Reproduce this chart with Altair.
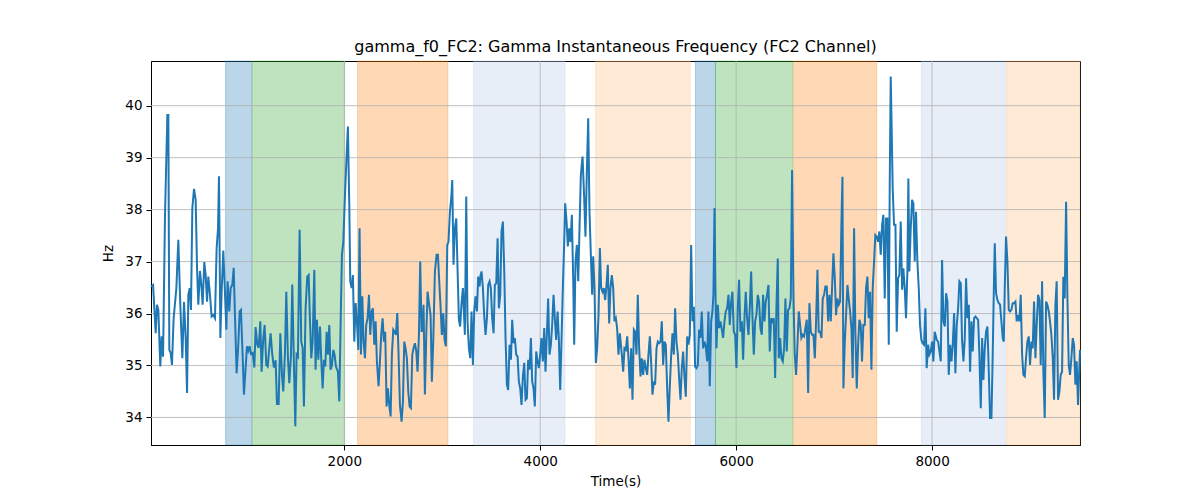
import altair as alt
import pandas as pd

# Gamma instantaneous frequency (Hz) over time (s)
time_s = [
    27, 48, 61, 75, 88, 102, 122, 136, 150, 170,
    194, 204, 214, 228, 241, 258, 286, 306, 326, 347,
    364, 381, 395, 408, 422, 435, 449, 466, 483, 497,
    510, 527, 541, 554, 571, 585, 599, 612, 629, 646,
    663, 680, 697, 711, 721, 735, 748, 765, 779, 796,
    809, 826, 840, 857, 871, 884, 901, 918, 932, 945,
    962, 976, 993, 1007, 1020, 1034, 1048, 1065, 1082, 1095,
    1112, 1126, 1143, 1156, 1173, 1187, 1204, 1218, 1235, 1248,
    1265, 1282, 1299, 1313, 1330, 1347, 1364, 1377, 1394, 1408,
    1425, 1439, 1456, 1469, 1486, 1500, 1513, 1527, 1544, 1561,
    1575, 1588, 1605, 1622,
    1636, 1650, 1663, 1677, 1694, 1707, 1721, 1735, 1752, 1765,
    1779, 1792, 1806, 1820, 1833, 1847, 1860, 1874, 1888, 1901,
    1915, 1935, 1949, 1963, 1976, 1990, 2007, 2024, 2037, 2051,
    2061, 2075, 2088, 2102, 2116, 2129, 2143, 2156, 2170, 2184,
    2197, 2211, 2224, 2238, 2252, 2265, 2279, 2292, 2306, 2320,
    2333, 2350, 2364, 2377, 2391, 2405, 2418, 2432, 2445, 2459,
    2473, 2486, 2500, 2513, 2527, 2541, 2554, 2568, 2585, 2599,
    2612, 2626, 2639, 2653, 2667, 2680, 2694, 2707, 2721, 2735,
    2748, 2762, 2775, 2789, 2799, 2809, 2823, 2837, 2850, 2864,
    2881, 2894, 2908, 2925, 2942, 2956, 2969, 2983, 2996, 3010,
    3024, 3037, 3051, 3064, 3078, 3092, 3102, 3115, 3129, 3143,
    3156, 3170, 3183, 3197, 3211,
    3231, 3245, 3258, 3272, 3286, 3299, 3313, 3326, 3340, 3354,
    3367, 3381, 3391, 3401, 3415, 3428, 3442, 3456, 3469, 3483,
    3496, 3510, 3524, 3537, 3551, 3565, 3578, 3592, 3605, 3619,
    3633, 3646, 3660, 3673, 3687, 3701, 3714, 3728, 3741, 3755,
    3769, 3782, 3796, 3809, 3823, 3837, 3850, 3864, 3877, 3891,
    3905, 3918, 3932, 3945, 3959, 3973, 3986, 4000, 4013, 4027,
    4041, 4054, 4068, 4081, 4095, 4109, 4122, 4136, 4149, 4163,
    4177, 4190, 4204, 4218, 4231, 4245, 4255, 4269, 4282, 4296,
    4309, 4323, 4337, 4347, 4360, 4374, 4388, 4401, 4415, 4432,
    4449, 4462, 4476, 4490, 4503, 4517, 4530, 4541, 4554, 4568,
    4581, 4595, 4609, 4622, 4636, 4649, 4663, 4677, 4690, 4704,
    4717, 4731, 4745, 4758, 4772, 4785, 4799, 4813,
    4833, 4847, 4860, 4874, 4888, 4901, 4915, 4928, 4942, 4956,
    4969, 4983, 4996, 5010, 5024, 5037, 5051, 5064, 5078, 5092,
    5105, 5119, 5132, 5146, 5160, 5173, 5187, 5201, 5214, 5228,
    5241, 5255, 5269, 5282, 5296, 5309, 5323, 5337, 5350, 5364,
    5377, 5391, 5405, 5418, 5432, 5445, 5459, 5473, 5486, 5500,
    5513, 5527, 5541, 5554, 5568, 5581, 5595, 5609, 5622, 5636,
    5649, 5663, 5677, 5690, 5704, 5717, 5731, 5745, 5758, 5768,
    5779, 5789, 5799, 5813, 5826, 5840, 5854, 5867, 5881, 5894,
    5908, 5922, 5935, 5949, 5962, 5976, 5990, 6003, 6017, 6030,
    6044, 6058, 6071, 6085, 6098, 6112, 6126, 6139, 6153, 6166,
    6180, 6194, 6207, 6221, 6234, 6248, 6262, 6275, 6289, 6302,
    6316, 6330, 6343, 6357, 6370, 6384, 6398, 6411, 6425, 6435,
    6449, 6462, 6476, 6490, 6503, 6517, 6530, 6544, 6558, 6571,
    6585, 6598, 6612, 6626, 6639, 6653, 6666, 6680, 6694, 6707,
    6721, 6735, 6748, 6762, 6775, 6789, 6803, 6816, 6830, 6843,
    6857, 6871, 6884, 6898, 6911, 6925, 6939, 6952, 6966, 6979,
    6993, 7007, 7020, 7034, 7047, 7061, 7075, 7085, 7095, 7109,
    7122, 7136, 7149, 7163, 7177, 7190, 7204, 7217, 7231, 7245,
    7258, 7272, 7285, 7299, 7313, 7326, 7340, 7353, 7367, 7381,
    7394, 7408, 7421, 7435, 7449, 7462, 7476, 7490, 7503, 7517,
    7530, 7544, 7558, 7568, 7578, 7588, 7598, 7612, 7626, 7639,
    7653, 7666, 7680, 7694, 7707, 7721, 7734, 7748, 7758, 7768,
    7782, 7796, 7809, 7823, 7836, 7850, 7864, 7877, 7891, 7904,
    7918, 7932, 7945, 7959, 7972, 7986, 8000, 8013, 8027,
    8048, 8062, 8075, 8089, 8102, 8116, 8130, 8143, 8157, 8170,
    8184, 8198, 8211, 8225, 8238, 8252, 8266, 8279, 8293, 8306,
    8320, 8334, 8347, 8361, 8375, 8388, 8402, 8415, 8429, 8443,
    8456, 8470, 8483, 8497, 8511, 8524, 8538, 8551, 8565, 8579,
    8592, 8606, 8619, 8633, 8640, 8653, 8667, 8681, 8694, 8708,
    8721, 8732, 8742, 8755, 8769, 8783, 8796, 8810, 8823, 8837,
    8851, 8864, 8878, 8891, 8905, 8919, 8932, 8946, 8959, 8973,
    8987, 9000, 9014, 9027, 9041, 9055, 9068, 9082, 9096, 9109,
    9123, 9136, 9150, 9164, 9177, 9191, 9204, 9218, 9232, 9245,
    9259, 9272, 9286, 9300, 9313, 9327, 9340, 9354, 9368, 9381,
    9395, 9408, 9422, 9436, 9449, 9463, 9476, 9490, 9510,
]

freq_hz = [
    36.52, 36.55, 36.10, 35.62, 36.17, 36.07, 34.98, 35.56, 35.17, 37.90,
    39.82, 39.82, 35.30, 35.24, 35.01, 35.91, 36.49, 37.42, 36.17, 35.14,
    36.22, 35.53, 34.47, 36.36, 36.49, 36.07, 38.03, 38.40, 38.19, 36.87,
    36.17, 36.82, 36.55, 36.17, 36.99, 36.74, 36.23, 36.71, 36.36, 35.94,
    35.97, 35.91, 37.26, 37.64, 38.64, 35.53, 36.42, 37.21, 36.55, 35.69,
    36.62, 36.04, 36.49, 36.55, 36.88, 35.97, 34.85, 35.40, 36.04, 36.07,
    35.21, 34.44, 34.96, 35.37, 35.28, 35.37, 35.22, 35.24, 34.96, 35.74,
    35.40, 35.34, 35.85, 34.88, 35.53, 35.78, 35.01, 34.98, 35.34, 35.62,
    35.21, 34.96, 35.10, 34.26, 34.26, 35.62, 34.82, 34.50, 35.21, 36.42,
    35.14, 34.66, 35.21, 36.56, 35.01, 33.83, 35.21, 35.17, 37.61, 35.46,
    35.34, 34.21, 36.10, 36.71,
    36.74, 35.85, 35.14, 35.46, 36.84, 34.92, 35.88, 35.11, 35.75, 35.11,
    34.56, 35.11, 34.98, 35.65, 35.21, 35.78, 34.92, 35.01, 35.30, 35.21,
    34.98, 34.88, 34.31, 35.85, 37.13, 37.38, 38.28, 39.05, 39.60, 38.09,
    36.62, 36.49, 36.74, 35.46, 36.20, 35.85, 35.30, 37.64, 35.21, 36.33,
    35.46, 35.14, 35.78, 35.91, 36.36, 35.59, 36.04, 36.10, 35.40, 35.85,
    35.08, 34.60, 35.08, 35.59, 35.91, 35.46, 35.65, 34.21, 34.56, 34.24,
    34.02, 35.21, 35.69, 35.65, 35.59, 36.01, 35.21, 34.24, 33.92, 34.31,
    35.46, 35.33, 35.14, 34.50, 34.21, 34.18, 35.21, 35.33, 35.43, 35.27,
    34.88, 35.59, 37.00, 35.65, 35.69, 36.17, 34.44, 35.59, 36.42, 36.20,
    35.97, 34.69, 35.46, 36.81, 37.13, 37.13, 36.62, 36.13, 35.59, 36.01,
    35.49, 35.37, 37.32, 37.38, 37.96, 38.22, 38.57, 36.94, 37.64, 37.83,
    36.87, 35.88, 35.75, 36.20, 36.49,
    35.59, 38.25, 35.85, 35.33, 35.14, 36.04, 35.01, 36.04, 36.33, 36.04,
    36.71, 36.52, 36.74, 36.81, 36.49, 35.97, 35.59, 35.91, 36.55, 36.62,
    36.49, 35.91, 35.62, 36.55, 36.58, 37.45, 36.10, 36.36, 37.58, 37.77,
    36.81, 35.53, 34.63, 34.53, 35.40, 35.11, 35.88, 35.43, 35.53, 35.21,
    35.17, 34.69, 34.56, 34.24, 34.79, 35.05, 34.34, 34.37, 35.11, 34.92,
    35.53, 34.69, 34.56, 34.21, 35.27, 35.08, 34.95, 35.21, 35.53, 35.08,
    35.72, 34.88, 35.62, 36.29, 35.21, 35.40, 35.78, 36.36, 35.91, 35.49,
    36.04, 35.53, 34.53, 35.53, 36.49, 37.38, 38.12, 37.77, 37.29, 37.64,
    37.38, 37.90, 36.62, 35.40, 37.00, 37.32, 36.62, 37.64, 38.67, 39.02,
    38.22, 37.48, 38.73, 39.76, 37.96, 37.13, 36.36, 37.10, 36.49, 35.05,
    35.33, 35.97, 37.26, 36.49, 36.42, 36.49, 36.26, 36.55, 36.94, 35.81,
    36.49, 36.74, 36.49, 35.85, 35.91, 35.72, 35.21, 35.62,
    35.21, 34.88, 35.33, 35.30, 35.56, 35.14, 34.56, 35.33, 34.34, 35.69,
    35.65, 35.21, 36.36, 35.33, 34.79, 35.14, 34.82, 35.11, 34.95, 34.82,
    35.21, 35.56, 35.08, 34.44, 34.69, 34.63, 35.33, 35.46, 35.43, 35.46,
    35.85, 35.01, 35.46, 35.40, 34.56, 33.92, 34.60, 35.21, 35.62, 35.21,
    36.10, 35.46, 35.21, 34.76, 34.34, 34.95, 35.27, 34.76, 34.40, 35.56,
    35.40, 35.59, 37.32, 35.85, 36.13, 34.98, 34.95, 35.01, 35.69, 35.53,
    36.04, 35.33, 35.46, 35.37, 35.08, 36.04, 34.60, 35.85, 36.04, 36.36,
    38.03, 36.42, 35.33, 36.17, 35.72, 35.85, 35.69, 35.53, 35.85, 36.04,
    36.10, 36.36, 35.78, 36.23, 36.42, 35.65, 35.59, 34.95, 36.13, 36.65,
    35.65, 35.85, 35.11, 35.91, 36.42, 35.91, 35.59, 36.10, 36.81, 35.97,
    35.21, 35.85, 35.97, 36.36, 36.23, 35.72, 35.59, 36.36, 35.85, 36.23,
    36.36, 36.55, 35.27, 35.91, 35.85, 35.91, 34.76, 36.10, 37.06, 35.14,
    35.53, 35.14, 35.08, 35.33, 36.29, 35.27, 36.07, 36.10, 36.29, 38.76,
    36.36, 35.21, 34.82, 35.40, 36.04, 35.78, 35.53, 35.59, 35.56, 35.72,
    35.88, 34.47, 36.20, 35.65, 35.59, 35.59, 35.14, 35.85, 36.84, 35.65,
    35.65, 35.53, 36.29, 36.36, 36.52, 36.52, 35.85, 36.36, 35.85, 36.49,
    37.16, 36.68, 35.97, 36.29, 36.17, 36.23, 37.77, 38.63, 34.56, 35.46,
    35.97, 36.55, 36.29, 36.04, 35.72, 34.76, 37.64, 35.65, 34.56, 35.40,
    35.88, 35.78, 35.08, 35.78, 35.78, 36.49, 36.71, 35.91, 36.42, 34.92,
    36.49, 37.00, 37.51, 37.48, 37.38, 37.58, 37.13, 37.71, 37.90, 36.29,
    37.83, 37.83, 35.40, 38.54, 40.56, 39.50, 38.41, 37.71, 37.71, 35.65,
    36.68, 36.74, 37.77, 36.46, 36.87, 36.49, 35.91, 36.81, 38.60, 36.81,
    37.64, 38.19, 38.12, 37.00, 37.96, 37.00, 36.49, 35.78, 35.49, 35.43,
    35.40, 36.10, 34.95, 35.40, 35.21, 35.27, 35.46, 35.08, 35.65,
    35.49, 35.46, 35.27, 35.08, 37.03, 35.85, 35.75, 36.39, 36.23, 34.82,
    35.40, 35.08, 35.40, 36.01, 34.85, 35.78, 36.10, 36.62, 36.58, 35.49,
    35.08, 35.53, 36.68, 35.91, 36.17, 34.88, 35.85, 35.27, 35.91, 35.94,
    35.91, 35.88, 35.21, 34.18, 35.53, 34.72, 35.33, 35.65, 35.75, 34.88,
    33.99, 33.99, 35.21, 36.74, 37.35, 36.39, 36.26, 36.20, 36.17, 35.85,
    35.53, 35.46, 36.49, 37.48, 37.00, 36.07, 36.04, 36.07, 36.20, 36.20,
    36.23, 35.85, 35.97, 35.85, 36.36, 35.21, 34.82, 34.79, 35.14, 35.46,
    35.56, 35.01, 35.46, 35.33, 36.23, 35.14, 35.78, 36.36, 36.26, 35.01,
    36.62, 34.88, 33.99, 36.23, 36.17, 36.04, 35.85, 35.59, 35.14, 34.34,
    36.17, 36.62, 34.34, 34.50, 34.82, 34.88, 36.71, 36.29, 38.15, 36.36,
    35.01, 34.82, 35.14, 35.53, 35.40, 34.63, 35.08, 34.24, 35.30,
]

# shaded phases (start/end in seconds) and their kind
band_start = [789, 1061, 2136, 3320, 4565, 5585, 5789, 6588, 7891, 8762]
band_end = [1054, 2003, 3058, 4252, 5531, 5789, 6578, 7435, 8748, 9510]
band_kind = ["p1", "p2", "p3", "p4", "p5", "p1", "p2", "p3", "p4", "p5"]

kind_names = ["p1", "p2", "p3", "p4", "p5"]
kind_colors = ["#1f77b4", "#2ca02c", "#ff7f0e", "#aec7e8", "#ffbb78"]

x_ticks = [2000, 4000, 6000, 8000]
y_ticks = [34, 35, 36, 37, 38, 39, 40]

x_domain = [time_s[0], time_s[-1]]
y_domain = [33.47, 40.86]

df_line = pd.DataFrame({"t": time_s, "hz": freq_hz})
df_bands = pd.DataFrame({"start": band_start, "end": band_end, "kind": band_kind})
df_xgrid = pd.DataFrame({"t": x_ticks})
df_ygrid = pd.DataFrame({"hz": y_ticks})

x_scale = alt.Scale(domain=x_domain, nice=False, zero=False)
y_scale = alt.Scale(domain=y_domain, nice=False, zero=False)
x_axis = alt.Axis(values=x_ticks, format="d", title="Time(s)")
y_axis = alt.Axis(values=y_ticks, format="d", title="Hz")
kind_scale = alt.Scale(domain=kind_names, range=kind_colors)

# Bandas coloridas de fundo
bands = alt.Chart(df_bands).mark_rect(
    fillOpacity=0.3, strokeOpacity=0.3, strokeWidth=1
).encode(
    x=alt.X("start:Q", scale=x_scale, axis=x_axis),
    x2="end:Q",
    fill=alt.Fill("kind:N", scale=kind_scale, legend=None),
    stroke=alt.Stroke("kind:N", scale=kind_scale, legend=None),
)

# grade por cima das bandas, por baixo da linha
xgrid = alt.Chart(df_xgrid).mark_rule(color="#b0b0b0", strokeWidth=0.8).encode(
    x=alt.X("t:Q", scale=x_scale, axis=x_axis)
)
ygrid = alt.Chart(df_ygrid).mark_rule(color="#b0b0b0", strokeWidth=0.8).encode(
    y=alt.Y("hz:Q", scale=y_scale, axis=y_axis)
)

line = alt.Chart(df_line).mark_line(color="#1f77b4", strokeWidth=2).encode(
    x=alt.X("t:Q", scale=x_scale, axis=x_axis),
    y=alt.Y("hz:Q", scale=y_scale, axis=y_axis),
)

chart = alt.layer(bands, xgrid, ygrid, line).properties(
    width=929,
    height=384,
    autosize="none",
    padding={"left": 143, "top": 53, "right": 20, "bottom": 52},
    title=alt.TitleParams(
        "gamma_f0_FC2: Gamma Instantaneous Frequency (FC2 Channel)",
        font="DejaVu Sans", fontSize=16, fontWeight="normal",
        color="black", anchor="middle", offset=6,
    ),
).configure_view(
    stroke="black", strokeWidth=1
).configure_axis(
    grid=False,
    domainColor="black",
    tickColor="black",
    tickSize=5,
    labelFont="DejaVu Sans",
    labelFontSize=13.5,
    labelColor="black",
    labelPadding=4,
    titleFont="DejaVu Sans",
    titleFontSize=13.5,
    titleFontWeight="normal",
    titleColor="black",
).configure_axisX(
    titlePadding=7
).configure_axisY(
    titlePadding=9
)

chart.save("out.html", embed_options={"renderer": "svg", "actions": False})
